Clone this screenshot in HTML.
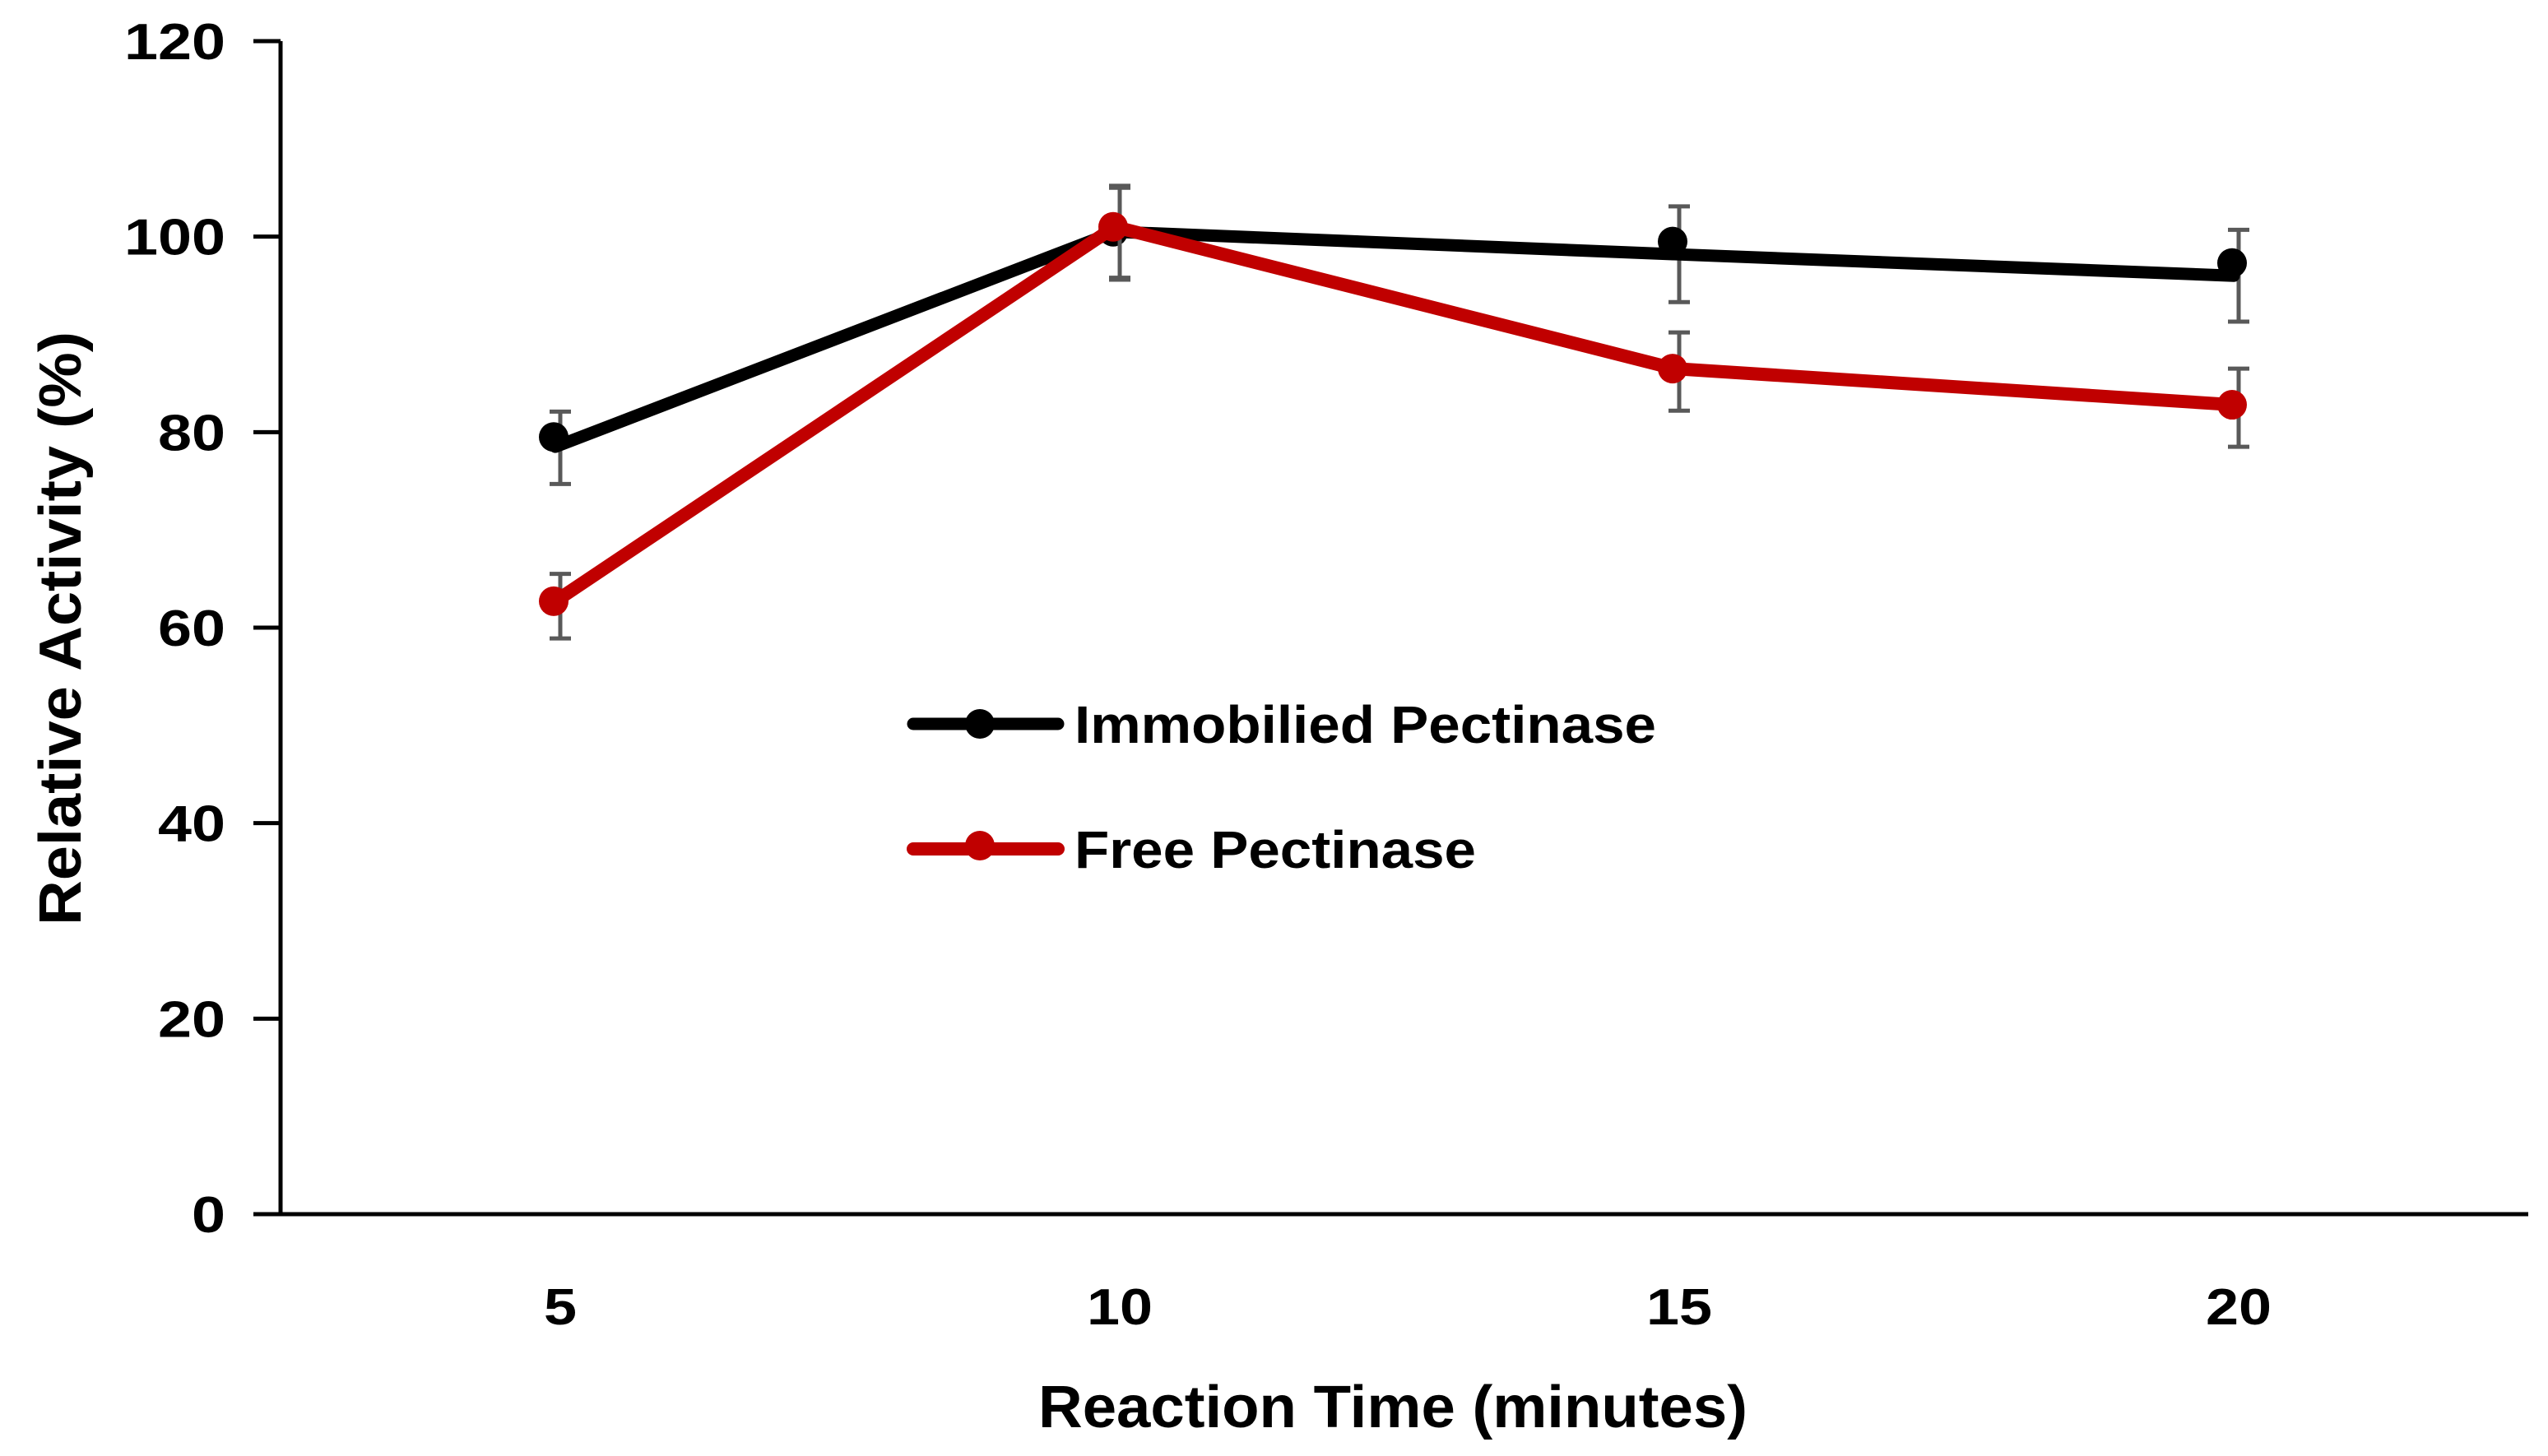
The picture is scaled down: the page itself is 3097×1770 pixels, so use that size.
<!DOCTYPE html>
<html><head><meta charset="utf-8"><style>
html,body{margin:0;padding:0;background:#fff;}
svg{display:block;font-family:"Liberation Sans",sans-serif;font-weight:bold;}
</style></head><body>
<svg id="chart" width="3097" height="1770" viewBox="0 0 3097 1770" xmlns="http://www.w3.org/2000/svg">
<g id="axes"></g>
<g id="series"></g>
<g id="legend">
  <line x1="1110" y1="880" x2="1286" y2="880" stroke="#000" stroke-width="15" stroke-linecap="round"/>
  <circle cx="1191" cy="880" r="18" fill="#000"/>
  <text x="1306" y="903" font-size="64" textLength="707" lengthAdjust="spacingAndGlyphs">Immobilied Pectinase</text>
  <line x1="1110" y1="1032" x2="1286" y2="1032" stroke="#c00000" stroke-width="16" stroke-linecap="round"/>
  <circle cx="1191" cy="1028" r="18" fill="#c00000"/>
  <text x="1306" y="1055" font-size="64" textLength="488" lengthAdjust="spacingAndGlyphs">Free Pectinase</text>
</g>
<text x="1693" y="1735" font-size="72" text-anchor="middle" textLength="862" lengthAdjust="spacingAndGlyphs">Reaction Time (minutes)</text>
<text transform="translate(98,764) rotate(-90)" font-size="72" text-anchor="middle" textLength="722" lengthAdjust="spacingAndGlyphs">Relative Activity (%)</text>
</svg>
<script>
const categories = ["5","10","15","20"];
const yTicks = [0,20,40,60,80,100,120];
const immobilized = [79.5, 100.5, 99.5, 97.3];
const immobilizedLine = [78.5, 100.5, 98.2, 96];
const immobilizedErr = [3.7, 4.7, 4.9, 4.7];
const free = [62.7, 101, 86.5, 82.8];
const freeErr = [3.3, 4.7, 4.0, 4.0];

const NS = "http://www.w3.org/2000/svg";
const X0 = 341, X1 = 3061, Y0 = 1476, Y1 = 50, YMAX = 120;
const band = (X1 - X0) / categories.length;
const xScale = i => X0 + band * (i + 0.5);
const yScale = v => Y0 - (v / YMAX) * (Y0 - Y1);
function mk(tag, attrs, parent) {
  const e = document.createElementNS(NS, tag);
  for (const k in attrs) e.setAttribute(k, attrs[k]);
  parent.appendChild(e);
  return e;
}
const axes = document.getElementById('axes');
const series = document.getElementById('series');

let yAxis = mk('line', {x1: X0, y1: Y1, x2: X0, y2: Y0, stroke: '#000', 'stroke-width': 5}, axes);


let xAxis = mk('line', {x1: X0 - 2, y1: Y0, x2: 3073, y2: Y0, stroke: '#000', 'stroke-width': 5}, axes);



yTicks.forEach(t => {
  const y = yScale(t);
  const tk = mk('line', {x1: 308, y1: y, x2: X0, y2: y, stroke: '#000', 'stroke-width': 5}, axes);
  
  
  const w = String(t).length * 41;
  const lb = mk('text', {x: 274, y: y + 22, 'font-size': 62, 'text-anchor': 'end', textLength: w, lengthAdjust: 'spacingAndGlyphs'}, axes);
  lb.textContent = t;
  
  
});
categories.forEach((c, i) => {
  const w = c.length * 40;
  const lb = mk('text', {x: xScale(i), y: 1610, 'font-size': 62, 'text-anchor': 'middle', textLength: w, lengthAdjust: 'spacingAndGlyphs'}, axes);
  lb.textContent = c;
  
  
});

function drawSeries(name, lineVals, markVals, errCenters, errs, color, width) {
  errCenters.forEach((v, i) => {
    const x = xScale(i);
    const g = mk('g', {stroke: '#595959', 'stroke-width': 5}, series);
    
    
    mk('line', {x1: x, y1: yScale(v + errs[i]), x2: x, y2: yScale(v - errs[i])}, g);
    mk('line', {x1: x - 13, y1: yScale(v + errs[i]), x2: x + 13, y2: yScale(v + errs[i])}, g);
    mk('line', {x1: x - 13, y1: yScale(v - errs[i]), x2: x + 13, y2: yScale(v - errs[i])}, g);
  });
  const pts = lineVals.map((v, i) => (xScale(i) - 6) + ',' + yScale(v)).join(' ');
  const pl = mk('polyline', {points: pts, fill: 'none', stroke: color, 'stroke-width': width, 'stroke-linecap': 'round', 'stroke-linejoin': 'round'}, series);
  
  
  markVals.forEach((v, i) => {
    const c = mk('circle', {cx: xScale(i) - 8, cy: yScale(v), r: 18, fill: color}, series);
    
    
  });
}
const immErrCenters = immobilizedLine.map((v, i) => i === 0 ? 78.4 : v);
drawSeries('immobilized', immobilizedLine, immobilized, immErrCenters, immobilizedErr, '#000', 15);
const freeErrCenters = free.map((v, i) => i === 0 ? 62.2 : (i === 1 ? 100.3 : v - 0.3));
drawSeries('free', free, free, freeErrCenters, freeErr, '#c00000', 16);
</script>
</body></html>
